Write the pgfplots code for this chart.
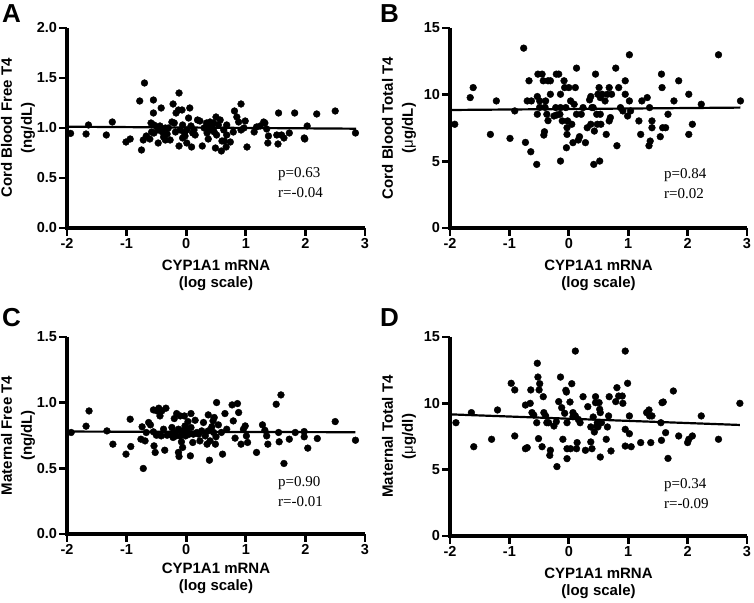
\documentclass[border=0pt]{standalone}
\usepackage{fontspec}
\setmainfont{Liberation Sans}
\newfontfamily\pfont{Liberation Serif}
\usepackage{pgfplots}
\pgfplotsset{compat=1.18}
\newcommand{\tfont}{\bfseries\fontsize{14.5}{14.5}\selectfont}
\pgfplotsset{
  panel/.style={
    scale only axis, axis lines=left, separate axis lines,
    xmin=-2, xmax=3, ymin=0, clip=false,
    xtick={-2,-1,0,1,2,3},
    tick align=outside, major tick length=6.5pt,
    /pgf/number format/assume math mode=true,
    xticklabel={\tfont\pgfmathprintnumber[assume math mode=true]{\tick}},
    yticklabel={\tfont\pgfmathprintnumber[assume math mode=true]{\tick}},
    xlabel={CYP1A1 mRNA\\(log scale)},
    axis line style={-, line width=3.4pt},
    major tick style={line width=2.8pt, black},
  },
  oned/.style={yticklabel={\tfont\pgfmathprintnumber[assume math mode=true,fixed,fixed zerofill,precision=1]{\tick}}},
  xlab/.style={every axis x label/.style={at={(axis description cs:0.5,#1)}, anchor=center,
     font=\bfseries\fontsize{15}{17}\selectfont, align=center}},
  ylab/.style={every axis y label/.style={at={(axis description cs:#1,0.5)}, rotate=90, anchor=center,
     font=\bfseries\fontsize{15}{20}\selectfont, align=center}},
  dots/.style={only marks, mark=*, mark size=3.4pt, black},
  fit/.style={no marks, line width=2.2pt, black},
}
\tikzset{
  note/.style={anchor=west, align=left, font=\pfont\fontsize{15}{20}\selectfont, inner sep=0pt},
  letter/.style={anchor=north west, font=\bfseries\fontsize{26}{26}\selectfont, inner sep=0pt},
  axl/.style={line width=3.4pt, line join=miter, black},
  tk/.style={line width=2.8pt, black},
}
% axis frame drawn in axis coordinates: #1 = ymax, #2 = list of y ticks
\newcommand{\frameaxes}[2]{%
  \draw[axl] (axis cs:-2,#1) -- (axis cs:-2,0) -- (axis cs:3,0);
  \pgfplotsinvokeforeach{-2,-1,0,1,2,3}{\draw[tk] (axis cs:##1,0) -- ([yshift=-8pt]axis cs:##1,0);}
  \pgfplotsinvokeforeach{#2}{\draw[tk] (axis cs:-2,##1) -- ([xshift=-8pt]axis cs:-2,##1);}
}
\begin{document}
\begin{tikzpicture}
\useasboundingbox (0,0) rectangle (754pt,602pt);
% ---------------- A
\begin{axis}[panel, oned, at={(67pt,374pt)}, anchor=south west, width=298pt, height=200pt,
  ymax=2, ytick={0,0.5,1,1.5,2},
  every tick label/.append style={font=\tfont},
  ylabel={Cord Blood Free T4\\(ng/dL)}, ylab=-0.164, xlab=-0.2375]
\frameaxes{2}{0,0.5,1,1.5,2}
\addplot[dots] table {
-1.94 0.946
-1.68 0.94
-1.64 1.03
-1.34 0.93
-1.24 1.06
-1.01 0.86
-0.94 0.89
-0.78 1.27
-0.75 0.78
-0.70 1.45
-0.72 0.88
-0.67 0.92
-0.61 0.89
-0.59 1.05
-0.58 0.96
-0.55 1.28
-0.55 1.15
-0.54 1.03
-0.54 0.95
-0.49 1.01
-0.46 0.98
-0.47 0.85
-0.44 1.02
-0.42 1.20
-0.38 0.91
-0.40 0.96
-0.35 1.00
-0.35 0.88
-0.32 0.94
-0.30 1.00
-0.27 0.88
-0.24 1.06
-0.22 1.24
-0.20 1.05
-0.18 0.96
-0.17 1.15
-0.13 1.18
-0.12 1.35
-0.12 0.82
-0.10 0.98
-0.07 1.18
-0.06 1.03
-0.06 0.90
-0.03 0.95
-0.02 0.92
0.01 0.98
0.01 0.85
0.04 1.10
0.06 1.20
0.08 1.02
0.09 0.81
0.11 0.95
0.13 0.98
0.15 0.93
0.19 1.08
0.23 1.07
0.27 0.82
0.30 1.00
0.34 1.05
0.35 0.95
0.36 1.03
0.37 0.89
0.39 0.98
0.40 1.06
0.43 1.02
0.46 1.05
0.47 0.96
0.49 0.80
0.50 1.11
0.51 0.93
0.54 1.03
0.57 1.08
0.59 0.77
0.60 0.87
0.63 0.98
0.64 0.87
0.67 0.81
0.68 1.03
0.68 0.93
0.74 0.86
0.79 0.96
0.81 1.17
0.85 1.11
0.88 1.06
0.92 1.24
0.92 0.98
0.97 1.00
0.99 1.07
1.02 0.81
1.14 0.96
1.18 1.01
1.24 1.02
1.30 1.06
1.32 1.05
1.35 0.99
1.38 0.92
1.37 0.85
1.52 0.93
1.54 0.84
1.55 1.15
1.60 0.93
1.64 0.90
1.73 0.95
1.82 1.15
1.98 0.90
1.99 0.89
2.03 1.02
2.19 1.14
2.50 1.17
2.84 0.95
};
\addplot[fit] coordinates {(-2,1.013) (2.85,0.993)};
\node[note] at (axis cs:1.54,0.45) {p=0.63\\r=-0.04};
\end{axis}
% ---------------- B
\begin{axis}[panel, at={(450pt,374pt)}, anchor=south west, width=297pt, height=200pt,
  ymax=15, ytick={0,5,10,15},
  every tick label/.append style={font=\tfont},
  ylabel={Cord Blood Total T4\\({\mdseries μ}g/dL)}, ylab=-0.172, xlab=-0.2375]
\frameaxes{15}{0,5,10,15}
\addplot[dots] table {
-1.92 7.78
-1.66 9.78
-1.61 10.53
-1.32 7.02
-1.22 9.53
-0.99 6.72
-0.91 8.78
-0.76 13.49
-0.73 6.42
-0.70 9.53
-0.67 11.04
-0.64 5.72
-0.63 9.53
-0.54 4.77
-0.53 9.86
-0.53 8.53
-0.52 11.54
-0.49 9.05
-0.49 9.53
-0.45 11.54
-0.43 11.04
-0.42 6.97
-0.41 7.22
-0.40 9.05
-0.39 9.53
-0.37 8.53
-0.35 11.04
-0.35 8.05
-0.31 11.04
-0.31 10.03
-0.25 8.40
-0.22 9.03
-0.21 11.54
-0.20 8.48
-0.17 11.54
-0.15 8.53
-0.14 10.03
-0.14 5.02
-0.14 9.03
-0.11 8.03
-0.08 11.04
-0.07 10.53
-0.05 9.03
-0.04 6.02
-0.03 7.02
-0.02 8.03
-0.03 7.52
0.00 10.53
0.03 9.53
0.05 7.78
0.07 6.40
0.09 9.28
0.11 10.53
0.13 11.99
0.13 8.53
0.16 6.60
0.18 6.85
0.21 8.53
0.24 9.03
0.28 6.40
0.31 7.52
0.35 9.61
0.37 9.86
0.37 7.78
0.39 9.03
0.41 9.03
0.42 4.77
0.43 7.27
0.45 11.54
0.47 8.53
0.48 7.78
0.49 10.03
0.51 10.53
0.52 5.02
0.53 8.53
0.53 9.78
0.54 7.78
0.56 10.03
0.61 9.53
0.63 7.02
0.65 10.03
0.68 10.53
0.68 8.03
0.70 8.28
0.72 10.03
0.79 11.99
0.81 6.17
0.84 10.53
0.87 9.03
0.91 8.78
0.95 11.04
0.95 10.03
0.99 8.40
1.02 12.99
1.02 9.53
1.04 8.78
1.18 8.03
1.21 7.02
1.23 9.53
1.32 9.78
1.35 6.17
1.36 9.03
1.37 6.52
1.40 7.52
1.40 8.03
1.54 6.85
1.56 11.54
1.57 10.53
1.58 7.52
1.63 7.52
1.67 8.53
1.77 9.53
1.85 11.04
2.02 10.03
2.02 7.02
2.08 7.78
2.23 9.28
2.52 12.99
2.89 9.53
};
\addplot[fit] coordinates {(-2,8.85) (2.89,9.03)};
\node[note] at (axis cs:1.60,3.35) {p=0.84\\r=0.02};
\end{axis}
% ---------------- C
\begin{axis}[panel, oned, at={(67pt,68pt)}, anchor=south west, width=298pt, height=197pt,
  ymax=1.5, ytick={0,0.5,1,1.5},
  every tick label/.append style={font=\tfont},
  ylabel={Maternal Free T4\\(ng/dL)}, ylab=-0.164, xlab=-0.225]
\frameaxes{1.5}{0,0.5,1,1.5}
\addplot[dots] table {
-1.93 0.773
-1.68 0.821
-1.63 0.937
-1.33 0.785
-1.23 0.684
-1.01 0.608
-0.93 0.666
-0.94 0.874
-0.76 0.722
-0.74 0.816
-0.72 0.499
-0.69 0.709
-0.67 0.773
-0.63 0.849
-0.60 0.831
-0.55 0.945
-0.55 0.778
-0.54 0.671
-0.52 0.621
-0.50 0.752
-0.49 0.937
-0.46 0.958
-0.44 0.899
-0.42 0.747
-0.41 0.937
-0.38 0.798
-0.36 0.638
-0.34 0.958
-0.32 0.752
-0.27 0.760
-0.24 0.811
-0.22 0.735
-0.21 0.773
-0.20 0.879
-0.17 0.747
-0.16 0.917
-0.13 0.798
-0.13 0.621
-0.12 0.590
-0.10 0.899
-0.10 0.747
-0.08 0.702
-0.07 0.785
-0.06 0.659
-0.04 0.760
-0.03 0.899
-0.02 0.823
-0.01 0.747
0.01 0.785
0.03 0.856
0.05 0.760
0.07 0.595
0.08 0.811
0.08 0.917
0.11 0.697
0.12 0.760
0.15 0.866
0.18 0.773
0.21 0.760
0.23 0.709
0.26 0.785
0.29 0.849
0.32 0.747
0.35 0.684
0.37 0.785
0.37 0.907
0.39 0.562
0.40 0.709
0.43 0.816
0.45 0.861
0.46 0.773
0.47 0.887
0.49 0.684
0.50 0.740
0.51 1.001
0.54 0.831
0.59 0.773
0.61 0.608
0.65 0.917
0.68 0.798
0.77 0.983
0.79 0.861
0.82 0.730
0.86 0.993
0.88 0.925
0.92 0.684
0.96 0.798
0.99 0.823
1.01 0.747
1.03 0.697
1.18 0.621
1.28 0.831
1.32 0.790
1.35 0.747
1.37 0.684
1.51 0.988
1.55 0.773
1.56 0.702
1.59 1.059
1.64 0.537
1.73 0.722
1.83 0.773
1.98 0.780
1.98 0.740
2.04 0.654
2.20 0.727
2.50 0.856
2.84 0.714
};
\addplot[fit] coordinates {(-2,0.780) (2.84,0.775)};
\node[note] at (axis cs:1.54,0.32) {p=0.90\\r=-0.01};
\end{axis}
% ---------------- D
\begin{axis}[panel, at={(450pt,66pt)}, anchor=south west, width=297pt, height=199pt,
  ymax=15, ytick={0,5,10,15},
  every tick label/.append style={font=\tfont},
  ylabel={Maternal Total T4\\({\mdseries μ}g/dl)}, ylab=-0.172, xlab=-0.236]
\frameaxes{15}{0,5,10,15}
\addplot[dots] table {
-1.90 8.54
-1.64 9.30
-1.60 6.73
-1.30 7.29
-1.20 9.50
-0.97 11.51
-0.91 11.01
-0.91 7.54
-0.73 9.87
-0.73 6.58
-0.70 6.66
-0.65 10.00
-0.64 11.01
-0.62 9.30
-0.59 9.12
-0.54 8.54
-0.53 13.02
-0.52 11.98
-0.51 7.34
-0.50 11.01
-0.49 11.48
-0.45 6.73
-0.43 10.50
-0.42 9.30
-0.39 9.05
-0.37 8.54
-0.34 8.54
-0.32 6.08
-0.31 6.46
-0.25 8.29
-0.21 8.62
-0.20 5.23
-0.17 10.13
-0.14 11.98
-0.12 9.67
-0.10 7.29
-0.07 9.25
-0.05 10.98
-0.04 10.85
-0.03 8.54
-0.03 6.58
-0.03 5.83
0.02 10.10
0.03 6.58
0.05 11.48
0.07 9.30
0.07 8.99
0.11 13.94
0.11 9.05
0.13 6.58
0.14 7.04
0.16 8.79
0.19 8.54
0.24 10.50
0.28 6.46
0.32 9.75
0.37 8.22
0.37 7.09
0.39 6.58
0.41 8.97
0.43 7.84
0.45 10.50
0.45 10.05
0.47 8.29
0.48 8.54
0.49 8.22
0.51 10.05
0.52 9.55
0.53 5.95
0.53 9.30
0.55 8.54
0.63 7.29
0.65 8.22
0.67 9.05
0.68 10.50
0.71 6.41
0.79 10.13
0.81 11.18
0.84 10.55
0.90 10.55
0.91 10.00
0.95 13.94
0.95 8.04
0.95 6.78
0.99 11.51
1.02 9.05
1.02 7.71
1.05 6.73
1.21 7.04
1.31 9.30
1.35 9.50
1.36 9.05
1.38 7.04
1.40 9.05
1.55 8.54
1.56 7.21
1.57 10.05
1.59 10.10
1.63 7.79
1.67 5.85
1.76 10.93
1.85 7.54
2.00 7.04
2.02 7.29
2.08 7.54
2.23 9.05
2.52 7.29
2.88 10.00
};
\addplot[fit] coordinates {(-2,9.17) (2.88,8.37)};
\node[note] at (axis cs:1.60,3.2) {p=0.34\\r=-0.09};
\end{axis}
% ---------------- panel letters
\node[letter] at (2pt,598pt) {A};
\node[letter] at (380pt,598pt) {B};
\node[letter] at (2pt,294pt) {C};
\node[letter] at (380pt,294pt) {D};
\end{tikzpicture}
\end{document}
